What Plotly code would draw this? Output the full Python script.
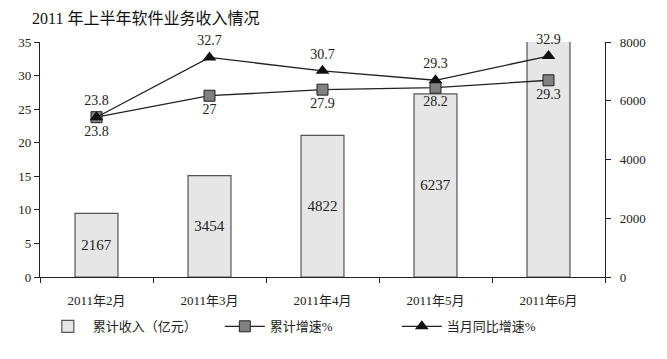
import plotly.graph_objects as go

months = ["2011年2月", "2011年3月", "2011年4月", "2011年5月", "2011年6月"]
revenue = [2167, 3454, 4822, 6237, 8065]
cum_growth = [23.8, 27, 27.9, 28.2, 29.3]
month_growth = [23.8, 32.7, 30.7, 29.3, 32.9]

FONT = "Liberation Serif, Times New Roman, Noto Sans CJK SC, serif"

fig = go.Figure()
fig.add_trace(go.Bar(
    x=months, y=revenue, name="累计收入（亿元）", yaxis="y",
    marker=dict(color="#e6e6e6", line=dict(color="#555555", width=1.2)),
    width=0.38, text=[str(v) for v in revenue], textposition="inside",
    insidetextanchor="middle", textfont=dict(size=15, color="#222222", family=FONT),
    cliponaxis=False,
))
fig.add_trace(go.Scatter(
    x=months, y=cum_growth, name="累计增速%", yaxis="y2", mode="lines+markers+text",
    line=dict(color="#222222", width=1.3),
    marker=dict(symbol="square", size=11, color="#808080", line=dict(color="#222222", width=1)),
    text=[f"{v:g}" for v in cum_growth], textposition="bottom center",
    textfont=dict(size=14, color="#222222", family=FONT), cliponaxis=False,
))
fig.add_trace(go.Scatter(
    x=months, y=month_growth, name="当月同比增速%", yaxis="y2", mode="lines+markers+text",
    line=dict(color="#222222", width=1.3),
    marker=dict(symbol="triangle-up", size=12, color="#111111"),
    text=[f"{v:g}" for v in month_growth], textposition="top center",
    textfont=dict(size=14, color="#222222", family=FONT), cliponaxis=False,
))

fig.update_layout(
    width=667, height=359,
    margin=dict(l=40, r=62, t=42, b=82, autoexpand=False),
    paper_bgcolor="white", plot_bgcolor="white",
    font=dict(family=FONT, size=13, color="#222222"),
    title=dict(text="2011 年上半年软件业务收入情况", x=0.048, xanchor="left",
               y=0.95, yanchor="middle", xref="container",
               font=dict(size=16, family=FONT, color="#111111")),
    showlegend=True,
    legend=dict(orientation="h", x=0.005, xanchor="left", y=-0.21, yanchor="middle",
                font=dict(size=13, family=FONT), itemwidth=40, traceorder="normal",
                entrywidth=122, entrywidthmode="pixels"),
    xaxis=dict(showline=True, linecolor="#222222", linewidth=1.2, ticks="outside",
               tickson="boundaries", ticklen=5, tickcolor="#222222", showgrid=False,
               tickfont=dict(size=13, family=FONT), ticklabelstandoff=11),
    yaxis=dict(side="right", range=[0, 8000], tickvals=[0, 2000, 4000, 6000, 8000],
               showline=True, linecolor="#222222", linewidth=1.2, ticks="outside", ticklen=5,
               tickcolor="#222222", showgrid=False, zeroline=False,
               tickfont=dict(size=13, family=FONT), ticklabelstandoff=6),
    yaxis2=dict(side="left", overlaying="y", range=[0, 35], dtick=5,
                showline=True, linecolor="#222222", linewidth=1.2, ticks="outside", ticklen=5,
                tickcolor="#222222", showgrid=False, zeroline=False,
                tickfont=dict(size=13, family=FONT)),
    bargap=0.62,
)

fig.write_html("out.html", config={"displayModeBar": False},
               post_script="document.body.style.margin='0';")
